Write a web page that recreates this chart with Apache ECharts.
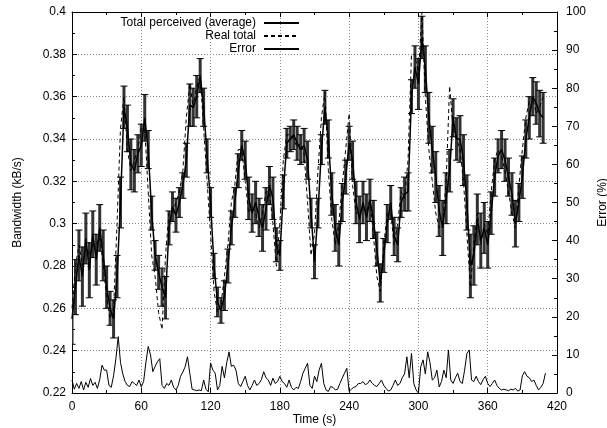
<!DOCTYPE html>
<html>
<head>
<meta charset="utf-8">
<script src="https://cdn.jsdelivr.net/npm/echarts@6/dist/echarts.min.js"></script>
<style>
  html, body { margin: 0; padding: 0; background: #fff; }
  #chart { width: 607px; height: 428px; }
</style>
</head>
<body>
<div id="chart"></div>
<script>
// 平均带宽 / 真实带宽, 每3秒一个点 (t = 0, 3, ..., 408)
var avgBw = [
  0.255,0.27,0.285,0.275,0.293,0.278,0.295,0.283,0.298,0.285,
  0.27,0.26,0.255,0.275,0.31,0.355,0.345,0.328,0.325,0.333,
  0.337,0.35,0.335,0.305,0.285,0.277,0.27,0.265,0.298,0.308,
  0.304,0.31,0.318,0.33,0.356,0.355,0.36,0.37,0.355,0.332,
  0.31,0.28,0.263,0.259,0.266,0.28,0.298,0.31,0.325,0.337,
  0.33,0.312,0.305,0.31,0.303,0.298,0.307,0.318,0.312,0.29,
  0.285,0.315,0.338,0.34,0.342,0.338,0.335,0.337,0.33,0.305,
  0.282,0.305,0.335,0.355,0.34,0.314,0.298,0.29,0.31,0.322,
  0.338,0.33,0.31,0.302,0.31,0.303,0.311,0.302,0.288,0.272,
  0.285,0.3,0.31,0.294,0.29,0.31,0.314,0.315,0.36,0.374,
  0.366,0.388,0.373,0.35,0.335,0.322,0.306,0.298,0.312,0.325,
  0.35,0.34,0.34,0.33,0.31,0.28,0.285,0.302,0.292,0.298,
  0.29,0.305,0.322,0.332,0.335,0.33,0.322,0.314,0.3,0.31,
  0.322,0.34,0.35,0.36,0.357,0.352,0.35
];
// 误差棒半宽
var avgErr = [
  0.012,0.013,0.012,0.014,0.012,0.013,0.011,0.012,0.011,0.012,
  0.01,0.008,0.009,0.01,0.012,0.01,0.011,0.012,0.01,0.009,
  0.01,0.011,0.009,0.008,0.007,0.008,0.009,0.01,0.008,0.007,
  0.008,0.007,0.006,0.008,0.01,0.009,0.01,0.008,0.009,0.008,
  0.007,0.006,0.007,0.006,0.007,0.008,0.008,0.007,0.008,0.007,
  0.009,0.01,0.009,0.01,0.009,0.011,0.01,0.009,0.01,0.008,
  0.007,0.008,0.007,0.006,0.007,0.008,0.007,0.008,0.009,0.007,
  0.008,0.007,0.007,0.008,0.009,0.01,0.011,0.01,0.009,0.008,
  0.008,0.009,0.01,0.011,0.01,0.011,0.01,0.009,0.008,0.009,
  0.008,0.009,0.008,0.009,0.008,0.007,0.008,0.009,0.008,0.01,
  0.012,0.01,0.011,0.012,0.011,0.012,0.012,0.013,0.012,0.01,
  0.009,0.01,0.011,0.012,0.013,0.015,0.014,0.012,0.013,0.012,
  0.011,0.01,0.009,0.008,0.009,0.01,0.009,0.01,0.011,0.009,
  0.01,0.009,0.01,0.009,0.01,0.011,0.012
];
var realBw = [
  0.26,0.28,0.29,0.28,0.29,0.285,0.29,0.29,0.295,0.28,
  0.265,0.255,0.26,0.3,0.345,0.36,0.335,0.325,0.33,0.335,
  0.345,0.345,0.315,0.285,0.275,0.258,0.25,0.285,0.305,0.305,
  0.31,0.315,0.325,0.35,0.366,0.355,0.365,0.37,0.345,0.32,
  0.295,0.268,0.258,0.262,0.275,0.29,0.31,0.318,0.335,0.335,
  0.32,0.305,0.308,0.305,0.298,0.305,0.315,0.315,0.3,0.28,
  0.3,0.33,0.342,0.342,0.34,0.336,0.338,0.333,0.31,0.285,
  0.295,0.325,0.35,0.362,0.325,0.302,0.29,0.3,0.318,0.335,
  0.352,0.318,0.305,0.305,0.308,0.305,0.312,0.295,0.275,0.268,
  0.29,0.305,0.305,0.29,0.3,0.315,0.312,0.33,0.38,0.38,
  0.37,0.4,0.36,0.335,0.32,0.305,0.298,0.3,0.32,0.365,
  0.345,0.34,0.335,0.32,0.295,0.27,0.29,0.305,0.29,0.3,
  0.295,0.315,0.33,0.335,0.332,0.325,0.315,0.305,0.298,0.318,
  0.335,0.35,0.358,0.36,0.352,0.355,0.36
];
// 误差百分比, 每2秒一个点 (t = 0, 2, ..., 410)
var errPct = [
  3.4,1.0,2.5,1.2,3.0,0.8,2.8,1.5,3.8,2.0,
  2.8,1.2,3.5,7.3,6.0,6.0,2.0,1.5,4.5,9.0,
  14.8,8.0,5.0,3.0,2.0,1.7,3.0,2.5,2.0,3.4,
  1.6,3.0,8.0,12.2,10.0,5.6,7.0,8.2,9.0,2.0,
  1.2,2.5,2.0,3.4,1.5,0.8,2.0,4.4,5.5,6.9,
  9.5,5.2,1.0,0.8,0.6,0.8,0.6,3.4,1.0,0.3,
  7.9,6.0,5.2,0.8,2.0,7.0,4.0,8.0,10.8,7.0,
  7.3,6.0,2.5,1.7,3.0,4.4,2.0,0.8,2.0,3.4,
  2.0,2.5,3.5,5.6,4.0,3.4,2.0,3.9,2.5,3.0,
  4.4,3.0,2.5,1.5,3.4,1.5,0.8,1.5,1.2,3.0,
  5.2,6.5,7.8,2.0,1.2,4.4,3.0,6.0,7.8,2.5,
  0.8,0.4,1.7,1.5,0.8,1.0,2.5,3.9,5.2,6.5,
  0.4,1.0,1.5,1.7,2.5,2.5,3.0,2.2,2.5,3.4,
  2.5,2.0,1.7,2.5,3.4,2.0,1.2,0.5,0.8,2.0,
  3.4,2.0,2.5,4.0,5.0,9.5,4.0,10.4,2.5,0.8,
  0.0,6.9,8.7,5.0,10.8,8.0,3.4,4.0,6.0,1.6,
  3.0,6.0,4.0,11.3,3.4,2.5,4.0,5.2,3.0,2.5,
  6.0,10.4,11.3,3.4,3.0,4.4,3.0,2.2,3.5,4.4,
  2.5,1.7,2.5,3.4,2.0,1.2,0.8,1.0,0.8,0.6,
  1.0,0.8,1.2,0.5,0.8,4.5,5.6,4.4,4.0,3.0,
  3.4,2.0,0.8,1.5,2.5,5.2
];

var bwTime = avgBw.map(function (v, i) { return i * 3; });
var errTime = errPct.map(function (v, i) { return i * 2; });

var font = 'Liberation Sans, Arial, sans-serif';
var gridLine = { show: true, lineStyle: { color: '#888', type: [1, 2], width: 1 } };
var frame = { show: true, onZero: false, lineStyle: { color: '#000', width: 1 } };

var chart = echarts.init(document.getElementById('chart'));
var option = {
  animation: false,
  grid: { left: 72, right: 50, top: 12, bottom: 35, outerBoundsMode: 'none', containLabel: false },
  textStyle: { fontFamily: font },
  legend: [
    { data: ['Total perceived (average)'], top: 17 },
    { data: ['Real total'], top: 30 },
    { data: ['Error'], top: 43 }
  ].map(function (l) {
    l.right = 307; l.align = 'right'; l.itemWidth = 35; l.itemHeight = 4;
    l.itemGap = 0; l.padding = 0;
    l.itemStyle = { color: 'rgba(0,0,0,0)', borderColor: 'rgba(0,0,0,0)', borderWidth: 0 };
    l.textStyle = { fontFamily: font, fontSize: 12, color: '#000', padding: [0, 3, 0, 0] };
    return l;
  }),
  xAxis: [{
    type: 'value', min: 0, max: 420, interval: 60, position: 'bottom',
    name: 'Time (s)', nameLocation: 'middle', nameGap: 21, nameMoveOverlap: false,
    nameTextStyle: { fontSize: 12, color: '#000', fontFamily: font },
    axisLine: frame,
    axisTick: { inside: true, length: 5, lineStyle: { color: '#000' } },
    minorTick: { show: true, splitNumber: 2, length: 3, lineStyle: { color: '#000' } },
    axisLabel: { fontSize: 12, color: '#000', margin: 8, fontFamily: font },
    splitLine: gridLine
  }, {
    type: 'value', min: 0, max: 420, interval: 60, position: 'top',
    axisLine: frame,
    axisTick: { inside: true, length: 5, lineStyle: { color: '#000' } },
    minorTick: { show: true, splitNumber: 2, length: 3, lineStyle: { color: '#000' } },
    axisLabel: { show: false },
    splitLine: { show: false }
  }],
  yAxis: [{
    type: 'value', min: 0.22, max: 0.4, interval: 0.02, position: 'left',
    name: 'Bandwidth (kB/s)', nameLocation: 'middle', nameGap: 48, nameRotate: 90,
    nameTextStyle: { fontSize: 12, color: '#000', fontFamily: font },
    axisLine: frame,
    axisTick: { inside: true, length: 5, lineStyle: { color: '#000' } },
    minorTick: { show: true, splitNumber: 2, length: 3, lineStyle: { color: '#000' } },
    axisLabel: {
      fontSize: 12, color: '#000', margin: 6, fontFamily: font,
      formatter: function (v) { return String(+v.toFixed(2)); }
    },
    splitLine: gridLine
  }, {
    type: 'value', min: 0, max: 100, interval: 10, position: 'right',
    name: 'Error (%)', nameLocation: 'middle', nameGap: 40, nameRotate: 90,
    nameTextStyle: { fontSize: 12, color: '#000', fontFamily: font },
    axisLine: frame,
    axisTick: { inside: true, length: 5, lineStyle: { color: '#000' } },
    minorTick: { show: true, splitNumber: 2, length: 3, lineStyle: { color: '#000' } },
    axisLabel: { fontSize: 12, color: '#000', margin: 9, fontFamily: font },
    splitLine: { show: false }
  }],
  series: [{
    name: 'errbars',
    type: 'custom',
    z: 1,
    clip: true,
    data: bwTime.map(function (t, i) { return [t, avgBw[i] - avgErr[i], avgBw[i] + avgErr[i]]; }),
    encode: { x: 0, y: [1, 2] },
    renderItem: function (params, api) {
      var lo = api.coord([api.value(0), api.value(1)]);
      var hi = api.coord([api.value(0), api.value(2)]);
      var w = 3.5;
      var cap = { stroke: '#000', lineWidth: 1 };
      return {
        type: 'group',
        children: [
          { type: 'line', shape: { x1: lo[0], y1: lo[1], x2: hi[0], y2: hi[1] }, style: { stroke: '#333', lineWidth: 3 } },
          { type: 'line', shape: { x1: lo[0] - w, y1: lo[1], x2: lo[0] + w, y2: lo[1] }, style: cap },
          { type: 'line', shape: { x1: hi[0] - w, y1: hi[1], x2: hi[0] + w, y2: hi[1] }, style: cap }
        ]
      };
    }
  }, {
    name: 'Total perceived (average)',
    type: 'line',
    z: 3,
    symbol: 'none',
    data: bwTime.map(function (t, i) { return [t, avgBw[i]]; }),
    lineStyle: { color: '#000', width: 1.5 },
    itemStyle: { color: '#000' }
  }, {
    name: 'Real total',
    type: 'line',
    z: 2,
    symbol: 'none',
    data: bwTime.map(function (t, i) { return [t, realBw[i]]; }),
    lineStyle: { color: '#000', width: 1, type: [4, 3] },
    itemStyle: { color: '#000' }
  }, {
    name: 'Error',
    type: 'line',
    yAxisIndex: 1,
    z: 2,
    symbol: 'none',
    data: errTime.map(function (t, i) { return [t, errPct[i]]; }),
    lineStyle: { color: '#000', width: 1 },
    itemStyle: { color: '#000' }
  }]
};
chart.setOption(option);
</script>
</body>
</html>
